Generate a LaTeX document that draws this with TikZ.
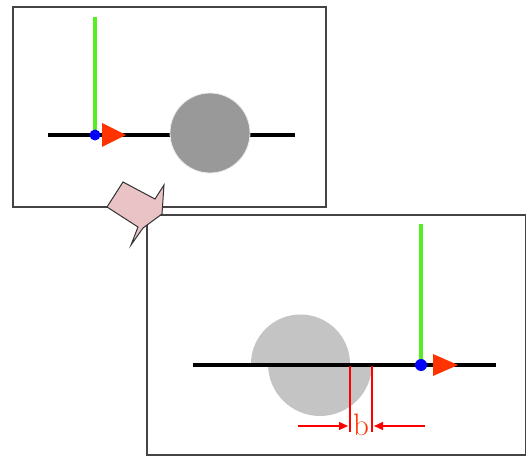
\documentclass[tikz,border=0pt]{standalone}
\usetikzlibrary{arrows.meta}
\definecolor{frame}{HTML}{444444}
\definecolor{axgreen}{HTML}{55EE22}
\definecolor{tri}{HTML}{FF3300}
\definecolor{pinkfill}{HTML}{E9C3C5}
\definecolor{ballA}{HTML}{999999}
\definecolor{ballB}{HTML}{C4C4C4}
\tikzset{
  framebox/.style={draw=frame, line width=1.3pt, fill=white},
  axis/.style={line width=4.5pt},
  upax/.style={draw=axgreen, line width=4pt},
  dotc/.style={fill=blue},
  tri/.style={fill=tri},
  dim/.style={draw=red, line width=1.1pt},
  dimarrow/.style={draw=red, line width=1.1pt, -{Triangle[length=9pt,width=8pt]}},
}
\begin{document}
\begin{tikzpicture}[x=1pt,y=-1pt]
\useasboundingbox (0,0) rectangle (527,457);
% top frame
\draw[framebox] (13,7) rectangle (326,207);
\draw[axis] (48,135) -- (295,135);
\fill[ballA] (210,133) circle (40);
\draw[white!85!gray, line width=0.8pt] (210,133) circle (40);
\draw[upax] (95,17) -- (95,135);
\fill[tri] (102,123) -- (126,135) -- (102,147) -- cycle;
\fill[dotc] (95,135) circle (5.5);
% bottom frame
\draw[framebox] (147,215) rectangle (525.5,455);
\fill[ballB] (372,364) arc (0:180:52) -- cycle;
\fill[ballB] (251,364) arc (180:360:49.5) -- cycle;
\draw[axis] (193,365) -- (496,365);
\draw[upax] (421,224) -- (421,365);
\fill[tri] (433,354) -- (458,365) -- (433,376) -- cycle;
\fill[dotc] (421,365) circle (6);
% dimension b
\draw[dim] (350,366) -- (350,432);
\draw[dim] (372,366) -- (372,432);
\coordinate (la) at (298,426);
\coordinate (lb) at (348,426);
\coordinate (ra) at (425,426);
\coordinate (rb) at (374,426);
\draw[dimarrow] (la) -- (lb);
\draw[dimarrow] (ra) -- (rb);
\node[text=tri, font=\fontsize{31}{31}\selectfont, inner sep=0pt] (b) at (361,425) {b};
% pink arrow
\draw[fill=pinkfill, draw=black!80, line width=1pt, line join=miter]
  (107,207) -- (123,182) -- (155,199) -- (164,185) -- (162,214) -- (143,228)
  -- (131,245) -- (138,227) -- cycle;
\end{tikzpicture}
\end{document}
